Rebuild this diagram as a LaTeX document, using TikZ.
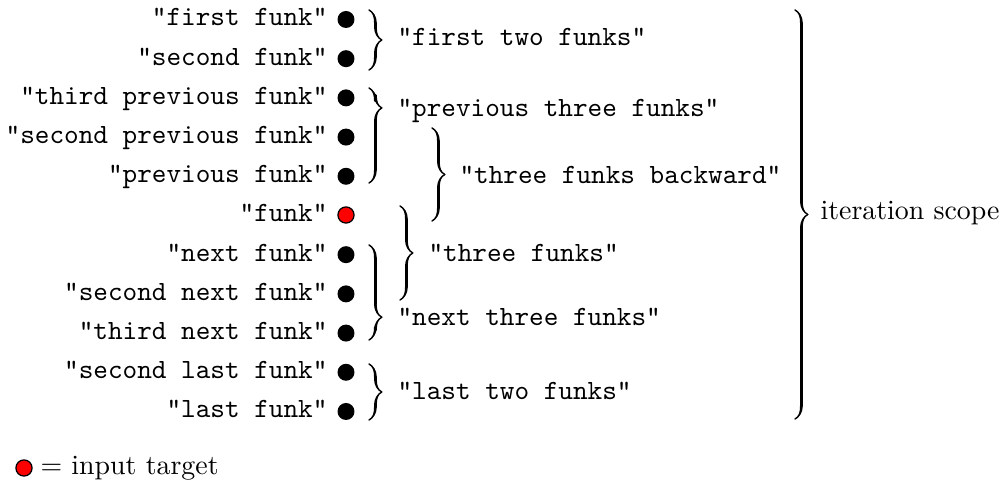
\documentclass[tikz,border=0pt]{standalone}
\usetikzlibrary{decorations.pathreplacing,calligraphy}
\begin{document}
\begin{tikzpicture}[x=0.359pt,y=-0.359pt,
  dot/.style={circle,fill=black,minimum size=6.1pt,inner sep=0pt},
  target/.style={circle,fill=red,draw=black,line width=0.45pt,minimum size=5.8pt,inner sep=0pt},
  itemname/.style={anchor=base east,inner sep=0pt,font=\ttfamily},
  grplabel/.style={anchor=base west,inner sep=0pt,font=\ttfamily},
  plainlabel/.style={anchor=base west,inner sep=0pt},
  bracepath/.style={decorate,decoration={calligraphic brace,amplitude=4.6pt,aspect=#1},line width=1pt},
  bracepath/.default=0.5
]
\useasboundingbox (0,0) rectangle (1007,492);

% items
\foreach \i/\t in {1/first funk,2/second funk,3/third previous funk,4/second previous funk,5/previous funk,
                   7/next funk,8/second next funk,9/third next funk,10/second last funk,11/last funk}{
  \node[dot] (d\i) at (346,{19.5+39.2*(\i-1)}) {};
  \node[itemname] (n\i) at (328,{26+39.2*(\i-1)}) {"\t"};
}
\node[target] (d6) at (346,215) {};
\node[itemname] (n6) at (328,222) {"funk"};

% braces
\coordinate (b1s) at (369,10);  \coordinate (b1e) at (369,70);
\coordinate (b2s) at (369,88);  \coordinate (b2e) at (369,183);
\coordinate (b3s) at (432,128); \coordinate (b3e) at (432,221);
\coordinate (b4s) at (400,206); \coordinate (b4e) at (400,300);
\coordinate (b5s) at (369,245); \coordinate (b5e) at (369,340);
\coordinate (b6s) at (369,364); \coordinate (b6e) at (369,420);
\coordinate (b7s) at (795,10);  \coordinate (b7e) at (795,419);

\draw[bracepath] (b1s) -- (b1e);
\draw[bracepath=0.21] (b2s) -- (b2e);
\draw[bracepath=0.5] (b3s) -- (b3e);
\draw[bracepath] (b4s) -- (b4e);
\draw[bracepath=0.76] (b5s) -- (b5e);
\draw[bracepath] (b6s) -- (b6e);
\draw[bracepath] (b7s) -- (b7e);

% group labels
\node[grplabel] (g1) at (397,46)  {"first two funks"};
\node[grplabel] (g2) at (397,117) {"previous three funks"};
\node[grplabel] (g3) at (459,184) {"three funks backward"};
\node[grplabel] (g4) at (428,262) {"three funks"};
\node[grplabel] (g5) at (397,326) {"next three funks"};
\node[grplabel] (g6) at (397,400) {"last two funks"};
\node[plainlabel] (g7) at (820,220) {iteration scope};

% legend
\node[target] (leg) at (24,468) {};
\node[plainlabel] (legtext) at (40,475) {$=$ input target};
\end{tikzpicture}
\end{document}
